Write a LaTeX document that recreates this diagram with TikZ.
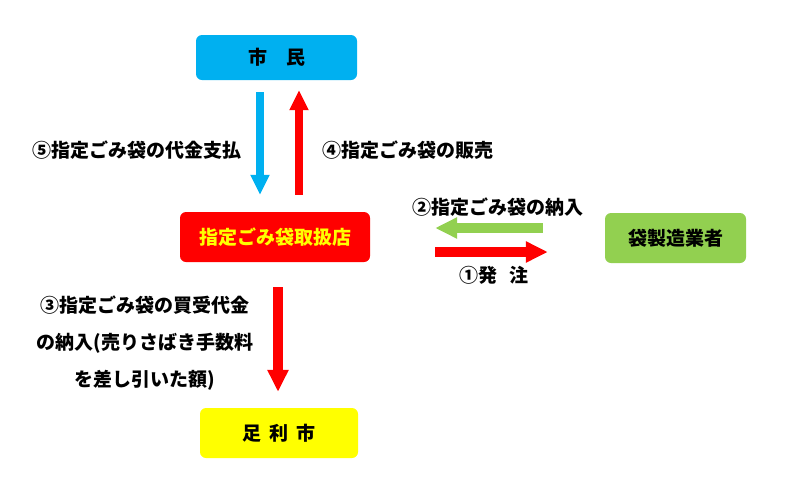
\documentclass[tikz,border=0pt]{standalone}
\usepackage{fontspec}
\setmainfont{Noto Sans CJK JP}
\usetikzlibrary{positioning, arrows.meta}
\definecolor{citizenblue}{RGB}{0,176,240}
\definecolor{shopred}{RGB}{255,0,0}
\definecolor{makergreen}{RGB}{146,208,80}
\definecolor{cityyellow}{RGB}{255,255,0}

\tikzset{
  box/.style={rounded corners=6pt, inner sep=0pt, font=\bfseries\fontsize{19}{19}\selectfont},
  flowlabel/.style={inner sep=0pt, font=\bfseries\fontsize{19}{19}\selectfont},
  fatarrow/.style={line width=8pt, -{Triangle[width=18pt,length=20pt]}},
  widearrow/.style={line width=10pt, -{Triangle[width=20pt,length=22pt]}}
}

\begin{document}
\begin{tikzpicture}[x=1pt, y=-1pt]
\useasboundingbox (0,0) rectangle (790,493);

% boxes
\node[box, fill=citizenblue, minimum width=161pt, minimum height=45pt] (citizen) at (276.5,57.5) {市\hspace{1em}民};
\node[box, fill=shopred, text=cityyellow, minimum width=190pt, minimum height=50pt] (shop) at (275,237) {指定ごみ袋取扱店};
\node[box, fill=makergreen, minimum width=141pt, minimum height=50pt] (maker) at (675.5,238) {袋製造業者};
\node[box, fill=cityyellow, minimum width=158pt, minimum height=50pt] (city) at (279,433) {足\hspace{0.4em}利\hspace{0.4em}市};

% arrows
\draw[fatarrow, draw=citizenblue, shorten <=12pt, shorten >=17pt]
  ([xshift=-16.5pt]citizen.south) -- ([xshift=-16.5pt]citizen.south |- shop.north);
\draw[fatarrow, draw=shopred, shorten <=17pt, shorten >=10pt]
  ([xshift=22.5pt]citizen.south |- shop.north) -- ([xshift=22.5pt]citizen.south);
\draw[widearrow, draw=makergreen, shorten <=62pt, shorten >=65pt]
  ([yshift=10pt]maker.west) -- ([yshift=10pt]maker.west -| shop.east);
\draw[widearrow, draw=shopred, shorten <=65pt, shorten >=57pt]
  ([yshift=-14pt]maker.west -| shop.east) -- ([yshift=-14pt]maker.west);
\draw[widearrow, draw=shopred, shorten <=25pt, shorten >=16pt]
  ([xshift=3pt]shop.south) -- ([xshift=3pt]shop.south |- city.north);

% labels
\node[flowlabel] (payL) at (137,150) {⑤指定ごみ袋の代金支払};
\node[flowlabel] (sellL) at (408,150) {④指定ごみ袋の販売};
\node[flowlabel] (deliverL) at (498,207) {②指定ごみ袋の納入};
\node[flowlabel] (orderL) at (494,275) {①発\hspace{0.6em}注};
\node[flowlabel, align=center, font=\bfseries\fontsize{19}{37}\selectfont] (settleL) at (145,343)
  {③指定ごみ袋の買受代金\\の納入(売りさばき手数料\\を差し引いた額)};
\end{tikzpicture}
\end{document}
